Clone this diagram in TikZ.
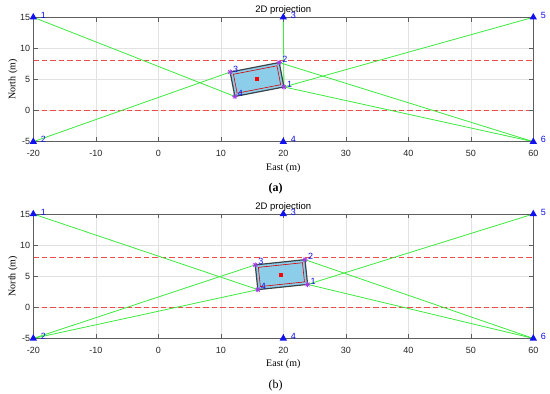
\documentclass[tikz,border=0pt]{standalone}
\usepackage{fontspec}
\setmainfont{Liberation Serif}
\setsansfont{Liberation Sans}
\usetikzlibrary{positioning,shapes.geometric,backgrounds}
\definecolor{gridgray}{HTML}{E2E2E2}
\definecolor{axisgray}{HTML}{5E5E5E}
\definecolor{raygreen}{HTML}{3CEB3C}
\definecolor{lanered}{HTML}{EE4B4B}
\definecolor{bodyblue}{HTML}{8CCDEA}
\definecolor{bodyedge}{HTML}{3A4448}
\definecolor{tagviolet}{HTML}{A43CE6}
\definecolor{anchorblue}{HTML}{1010F0}

\tikzset{
  gridline/.style={gridgray,line width=0.5pt},
  axisbox/.style={axisgray,line width=0.6pt},
  lane/.style={lanered,line width=0.7pt,dash pattern=on 5.5pt off 3pt},
  ray/.style={raygreen,line width=0.8pt},
  body/.style={draw=bodyedge,fill=bodyblue,line width=1.2pt},
  bodyline/.style={draw=red!85!black,line width=0.6pt},
  centremark/.style={fill=red,inner sep=0pt,minimum size=4pt},
  tagstar/.style={tagviolet,line width=0.75pt},
  anchormark/.style={regular polygon,regular polygon sides=3,fill=anchorblue,inner sep=0pt,minimum size=8.5pt},
  idlabel/.style={text=anchorblue,font=\sffamily\fontsize{9}{9}\selectfont,inner sep=0.3pt},
  ticklabel/.style={text=black!85,font=\sffamily\fontsize{9}{9}\selectfont,inner sep=0pt},
  axislabel/.style={font=\fontsize{10}{10}\selectfont,inner sep=0pt},
  plottitle/.style={font=\sffamily\fontsize{9.5}{9.5}\selectfont,inner sep=0pt},
  caption/.style={font=\fontsize{12}{12}\selectfont,inner sep=0pt}
}

\begin{document}
\begin{tikzpicture}
\useasboundingbox (0,0) rectangle (550pt,394pt);
\begin{scope}[on background layer]
  \fill[white] (0,0) rectangle (550pt,394pt);
\end{scope}

\foreach \p/\oy/\cx/\cy/\ang in {a/283.4pt/15.8/5/11, b/86.7pt/19.7/5.25/6}{
\begin{scope}[shift={(158.3pt,\oy)},x=6.25pt,y=6.22pt]
  % grid and lane limits
  \begin{scope}[on background layer]
    \foreach \gx in {-10,0,...,50} \draw[gridline] (\gx,-5) -- (\gx,15);
    \foreach \gy in {0,5,10} \draw[gridline] (-20,\gy) -- (60,\gy);
    \draw[lane] (-20,8) -- (60,8);
    \draw[lane] (-20,0) -- (60,0);
  \end{scope}
  % axes
  \draw[axisbox] (-20,-5) rectangle (60,15);
  \foreach \gx in {-20,-10,...,60}{
    \draw[axisbox] (\gx,-5) -- ++(0,4.5pt) (\gx,15) -- ++(0,-4.5pt);
    \node[ticklabel,anchor=base] (\p-x\gx) at ([yshift=-14.8pt]\gx,-5) {\gx};
  }
  \foreach \gy in {-5,0,...,15}{
    \draw[axisbox] (-20,\gy) -- ++(4.5pt,0) (60,\gy) -- ++(-4.5pt,0);
    \node[ticklabel,anchor=base east] (\p-y\gy) at ([xshift=-3pt,yshift=-3.2pt]-20,\gy) {\gy};
  }
  \node[plottitle,anchor=base] (\p-title) at ([yshift=4.7pt]20,15) {2D projection};
  \node[axislabel,anchor=base] (\p-east) at ([yshift=-28.5pt]20,-5) {East (m)};
  \node[axislabel,anchor=base,rotate=90] (\p-north) at ([xshift=-18pt]-20,5) {North (m)};
  % vehicle with its four tags
  \begin{scope}[shift={(\cx,\cy)},rotate=\ang]
    \draw[body] (-4,-2) rectangle (4,2);
    \draw[bodyline] (-3.55,-1.55) rectangle (3.55,1.55);
    \coordinate (\p-t1) at (4,-2);
    \coordinate (\p-t2) at (4,2);
    \coordinate (\p-t3) at (-4,2);
    \coordinate (\p-t4) at (-4,-2);
  \end{scope}
  \node[centremark] (\p-c) at (\cx,\cy) {};
  \foreach \k in {1,...,4}{
    \draw[tagstar] (\p-t\k) +(-2.6pt,0) -- +(2.6pt,0) +(0,-2.6pt) -- +(0,2.6pt)
      +(-1.9pt,-1.9pt) -- +(1.9pt,1.9pt) +(-1.9pt,1.9pt) -- +(1.9pt,-1.9pt);
    \node[idlabel,right=2.6pt of \p-t\k,yshift=3pt] (\p-l\k) {\k};
  }
  % anchors
  \foreach \k/\ax/\ay in {1/-20/15, 2/-20/-5, 3/20/15, 4/20/-5, 5/60/15, 6/60/-5}{
    \node[anchormark] (\p-A\k) at (\ax,\ay) {};
    \node[idlabel,right=4.3pt of \p-A\k,yshift=2pt] (\p-a\k) {\k};
  }
  % ranging rays
  \begin{scope}[on background layer]
    \draw[ray] (\p-A1.center) -- (\p-t4);
    \draw[ray] (\p-A2.center) -- (\p-t3);
    \draw[ray] (\p-A5.center) -- (\p-t1);
    \draw[ray] (\p-A6.center) -- (\p-t1);
    \draw[ray] (\p-A6.center) -- (\p-t2);
  \end{scope}
\end{scope}
}
\begin{scope}[on background layer]
  \draw[ray] (a-A3.center) -- (a-t1);
  \draw[ray] (b-A2.center) -- (b-t4);
\end{scope}

\node[caption] (capa) at (275.5pt,205pt) {\bfseries (a)};
\node[caption] (capb) at (275.5pt,8.6pt) {(b)};
\end{tikzpicture}
\end{document}
